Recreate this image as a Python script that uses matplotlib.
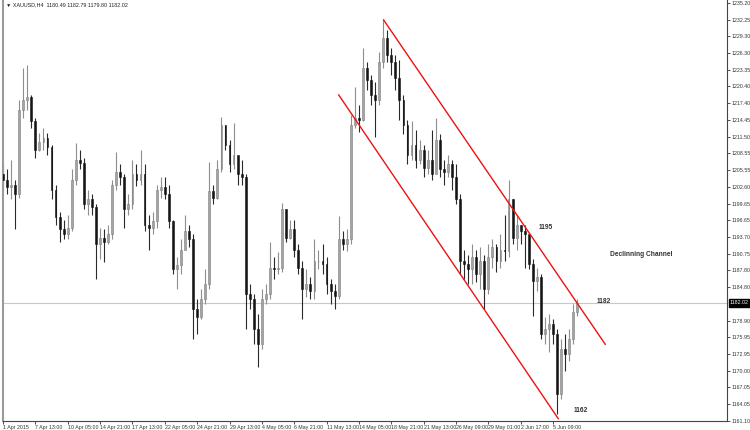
import matplotlib
matplotlib.use("Agg")
import matplotlib.pyplot as plt
import matplotlib.transforms as mtransforms
import numpy as np

# XAUUSD H4 candles (one entry ~ two H4 bars)
first_open = 1204.8
closes = [
    1203.9, 1202.5, 1203.0, 1201.3, 1216.3, 1218.0, 1218.6, 1214.2, 1209.2, 1210.6,
    1211.3, 1209.6, 1202.1, 1197.2, 1195.1, 1194.2, 1195.4, 1203.9, 1207.4, 1206.9,
    1199.5, 1200.4, 1199.0, 1192.4, 1193.6, 1192.9, 1194.2, 1203.0, 1205.3, 1204.3,
    1198.6, 1199.5, 1204.8, 1203.9, 1204.8, 1195.9, 1195.4, 1196.5, 1202.1, 1202.5,
    1201.3, 1196.5, 1188.0, 1188.7, 1191.5, 1194.7, 1193.3, 1180.9, 1179.5, 1182.7,
    1185.3, 1201.8, 1200.7, 1205.7, 1213.6, 1210.1, 1206.6, 1208.3, 1204.8, 1204.3,
    1183.6, 1182.7, 1177.4, 1174.7, 1182.7, 1183.6, 1188.3, 1188.0, 1188.3, 1198.6,
    1193.6, 1195.1, 1191.5, 1188.3, 1184.5, 1185.3, 1184.1, 1189.4, 1189.4, 1188.9,
    1185.3, 1184.1, 1183.2, 1193.3, 1192.4, 1193.3, 1213.6, 1214.9, 1214.5, 1223.7,
    1221.6, 1218.9, 1218.0, 1224.8, 1229.0, 1226.0, 1224.8, 1221.9, 1218.0, 1213.6,
    1208.3, 1210.1, 1207.4, 1209.2, 1206.0, 1207.4, 1204.8, 1211.0, 1205.7, 1205.3,
    1206.6, 1204.3, 1200.4, 1189.4, 1188.9, 1188.0, 1190.1, 1187.1, 1189.4, 1184.5,
    1190.1, 1191.9, 1189.4, 1191.5, 1191.2, 1200.4, 1193.6, 1195.9, 1194.7, 1194.2,
    1188.9, 1185.9, 1186.6, 1176.5, 1177.4, 1178.3, 1176.5, 1165.9, 1173.8, 1173.0,
    1175.6, 1180.49, 1182.02,
]
highs = [
    1206.6, 1205.7, 1207.4, 1203.9, 1218.0, 1223.7, 1224.2, 1218.9, 1214.9, 1212.2,
    1213.1, 1212.2, 1210.1, 1203.0, 1198.2, 1196.8, 1197.7, 1205.7, 1210.4, 1209.2,
    1207.8, 1202.1, 1201.3, 1199.5, 1195.4, 1195.1, 1195.9, 1203.9, 1208.8, 1206.6,
    1204.8, 1201.3, 1207.4, 1206.6, 1209.2, 1206.6, 1197.7, 1198.2, 1203.0, 1204.3,
    1204.3, 1203.0, 1196.8, 1190.1, 1193.3, 1197.7, 1195.9, 1194.2, 1182.7, 1184.5,
    1188.0, 1207.1, 1203.0, 1207.4, 1215.0, 1213.6, 1211.0, 1214.0, 1207.8, 1207.4,
    1204.8, 1185.3, 1183.6, 1180.0, 1184.5, 1185.3, 1192.8, 1190.1, 1191.0, 1199.8,
    1198.6, 1196.8, 1196.8, 1192.4, 1189.4, 1188.0, 1186.6, 1193.3, 1191.5, 1192.4,
    1190.1, 1186.2, 1185.3, 1197.4, 1194.7, 1195.1, 1215.4, 1220.3, 1217.2, 1227.2,
    1224.8, 1222.5, 1221.2, 1226.5, 1232.2, 1230.4, 1227.2, 1226.0, 1225.1, 1218.9,
    1214.5, 1214.2, 1212.7, 1211.0, 1210.1, 1209.2, 1212.7, 1214.9, 1211.9, 1207.4,
    1208.3, 1207.4, 1206.6, 1201.3, 1191.5, 1190.6, 1192.4, 1191.5, 1191.9, 1190.6,
    1192.4, 1193.3, 1192.4, 1194.2, 1197.7, 1203.9, 1200.4, 1197.7, 1195.9, 1195.9,
    1193.3, 1189.8, 1188.3, 1187.1, 1179.5, 1180.0, 1179.2, 1177.4, 1175.6, 1176.5,
    1177.4, 1181.8, 1182.79,
]
lows = [
    1202.1, 1201.3, 1200.4, 1195.1, 1200.7, 1214.9, 1216.3, 1213.1, 1207.8, 1208.9,
    1209.2, 1208.3, 1200.4, 1195.9, 1192.8, 1193.3, 1193.3, 1194.7, 1203.0, 1205.7,
    1198.6, 1197.7, 1197.7, 1186.2, 1189.8, 1189.2, 1192.4, 1193.3, 1202.1, 1203.0,
    1195.4, 1197.7, 1198.6, 1202.7, 1203.0, 1194.7, 1191.5, 1194.2, 1195.4, 1200.7,
    1200.4, 1195.4, 1187.1, 1184.5, 1187.1, 1192.4, 1191.9, 1175.6, 1176.5, 1179.2,
    1181.8, 1184.5, 1199.5, 1200.4, 1205.3, 1209.2, 1205.3, 1205.7, 1203.0, 1203.0,
    1177.4, 1180.9, 1174.7, 1170.7, 1173.8, 1181.8, 1182.7, 1186.2, 1187.1, 1187.6,
    1192.8, 1193.3, 1190.1, 1187.1, 1179.2, 1183.0, 1182.7, 1182.7, 1188.0, 1187.1,
    1183.6, 1181.8, 1180.9, 1182.7, 1191.5, 1191.2, 1192.4, 1213.1, 1212.4, 1214.2,
    1219.8, 1217.2, 1211.5, 1217.2, 1223.7, 1224.8, 1222.5, 1219.8, 1214.5, 1211.9,
    1206.6, 1207.4, 1206.0, 1206.6, 1204.3, 1204.8, 1203.9, 1206.0, 1204.3, 1203.0,
    1204.3, 1202.1, 1199.5, 1187.1, 1186.2, 1185.3, 1185.3, 1185.7, 1184.5, 1180.9,
    1183.6, 1188.3, 1187.6, 1188.3, 1189.4, 1190.1, 1192.4, 1191.5, 1192.4, 1188.3,
    1188.0, 1179.7, 1184.1, 1175.6, 1174.7, 1173.3, 1174.7, 1162.3, 1165.0, 1170.0,
    1171.7, 1174.7, 1179.80,
]

price_ticks = [1235.20, 1232.25, 1229.30, 1226.30, 1223.35, 1220.40, 1217.40,
               1214.45, 1211.50, 1208.55, 1205.55, 1202.60, 1199.65, 1196.65,
               1193.70, 1190.75, 1187.80, 1184.80, 1178.90, 1175.95, 1172.95,
               1170.00, 1167.05, 1164.05, 1161.10]
date_labels = ["1 Apr 2015", "7 Apr 13:00", "10 Apr 05:00", "14 Apr 21:00",
               "17 Apr 13:00", "22 Apr 05:00", "24 Apr 21:00", "29 Apr 13:00",
               "4 May 05:00", "6 May 21:00", "11 May 13:00", "14 May 05:00",
               "18 May 21:00", "21 May 13:00", "26 May 09:00", "29 May 01:00",
               "2 Jun 17:00", "5 Jun 09:00"]

last_price = 1182.02
header = "\u25bc XAUUSD,H4  1180.49 1182.79 1179.80 1182.02"

# channel lines (bar index, price)
upper_x = [94.1, 148.9]
upper_y = [1232.2, 1174.7]
lower_x = [83.0, 137.3]
lower_y = [1218.9, 1161.5]

small = ["Liberation Sans", "DejaVu Sans"]

closes = np.array(closes)
highs = np.array(highs)
lows = np.array(lows)
opens = np.concatenate([[first_open], closes[:-1]])
idx = np.arange(len(closes))
bull = closes >= opens

fig = plt.figure(figsize=(7.5, 4.3), dpi=100)
ax = fig.add_axes([3 / 750, 9 / 430, 724 / 750, 421 / 430])

# wicks
ax.vlines(idx[bull], lows[bull], highs[bull], color="#8e8e8e", lw=0.8, zorder=2)
ax.vlines(idx[~bull], lows[~bull], highs[~bull], color="#2a2a2a", lw=0.8, zorder=2)

# bodies
body = np.abs(closes - opens)
body = np.where(body < 0.15, 0.15, body)
bottom = np.minimum(opens, closes)
ax.bar(idx[bull], body[bull], bottom=bottom[bull], width=0.45,
       color="#a4a4a4", edgecolor="#808080", linewidth=0.4, zorder=3)
ax.bar(idx[~bull], body[~bull], bottom=bottom[~bull], width=0.45,
       color="#151515", edgecolor="#151515", linewidth=0.4, zorder=3)

# current price line
ax.axhline(last_price, color="#c8c8c8", lw=0.8, zorder=1)

# channel
ax.plot(upper_x, upper_y, color="#ee1111", lw=1.0, zorder=4)
ax.plot(lower_x, lower_y, color="#ee1111", lw=1.0, zorder=4)

ax.set_xlim(0.25, 179.0)
ax.set_ylim(1161.2, 1235.73)

ax.spines["top"].set_visible(False)
ax.spines["left"].set_color("#9a9a9a")
ax.spines["left"].set_linewidth(1.5)
ax.spines["right"].set_color("#444444")
ax.spines["right"].set_linewidth(0.8)
ax.spines["bottom"].set_color("#444444")
ax.spines["bottom"].set_linewidth(0.8)

ax.yaxis.tick_right()
ax.set_yticks(price_ticks)
ax.set_yticklabels([f"{v:.2f}" for v in price_ticks], family=small)
ax.tick_params(axis="y", labelsize=3.8, length=2.0, width=0.6, pad=1.2,
               colors="#333333")

ax.set_xticks(np.arange(0, len(date_labels) * 8, 8))
ax.set_xticklabels(date_labels, ha="left", family=small)
ax.tick_params(axis="x", labelsize=3.8, length=2.5, width=0.6, pad=0.5,
               colors="#333333")

# current price box on the axis
trans = mtransforms.blended_transform_factory(ax.transAxes, ax.transData)
ax.text(1.004, last_price, f"{last_price:.2f}", transform=trans, fontsize=3.8,
        family=small, color="white", va="center", ha="left",
        bbox=dict(boxstyle="square,pad=0.25", fc="black", ec="black"))

# header
ax.text(0.004, 0.995, header, transform=ax.transAxes, fontsize=3.9,
        family=small, color="#222222", va="top", ha="left")

# annotations
note = dict(fontsize=4.8, fontweight="bold", color="#333333", va="center",
            family=small)
ax.text(134.1, 1195.4, "1195", ha="center", **note)
ax.text(150.1, 1190.6, "Declinning Channel", ha="left", **note)
ax.text(146.7, 1182.3, "1182", ha="left", **note)
ax.text(141.2, 1163.0, "1162", ha="left", **note)

fig.savefig("out.png", dpi=100, facecolor="white")
